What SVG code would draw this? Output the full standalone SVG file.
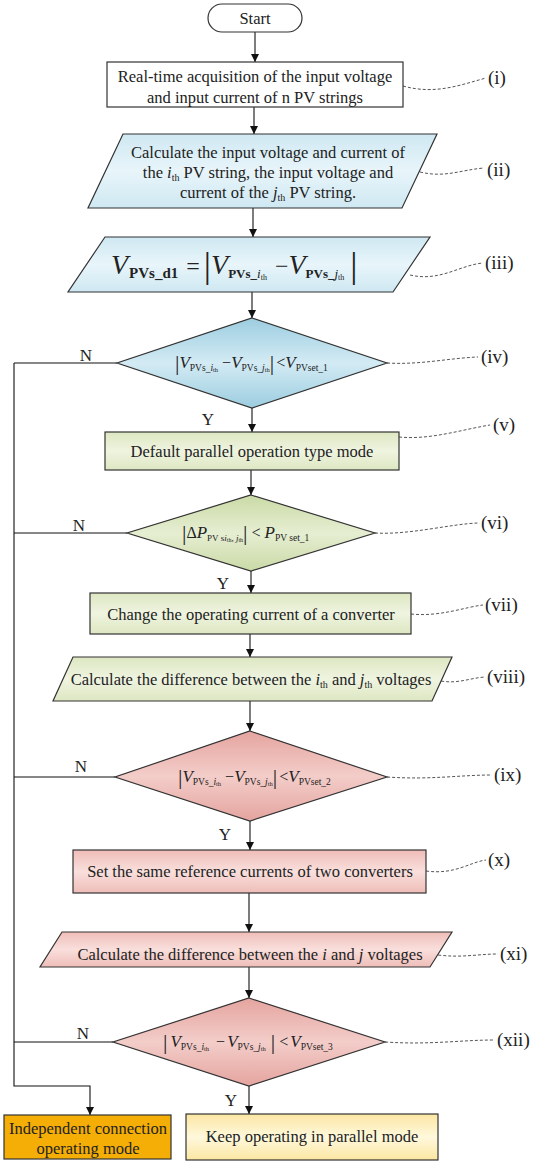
<svg xmlns="http://www.w3.org/2000/svg" width="540" height="1163" viewBox="0 0 540 1163">
<defs>
<linearGradient id="gBlue" x1="0" y1="0" x2="0" y2="1"><stop offset="0" stop-color="#cfe8f2"/><stop offset="0.5" stop-color="#e8f5fa"/><stop offset="1" stop-color="#cfe8f2"/></linearGradient>
<linearGradient id="gBlueD" x1="0" y1="0" x2="0" y2="1"><stop offset="0" stop-color="#9ccde0"/><stop offset="0.5" stop-color="#d3ebf4"/><stop offset="1" stop-color="#9ccde0"/></linearGradient>
<linearGradient id="gGreen" x1="0" y1="0" x2="0" y2="1"><stop offset="0" stop-color="#dde7c2"/><stop offset="0.5" stop-color="#eff4e0"/><stop offset="1" stop-color="#dde7c2"/></linearGradient>
<linearGradient id="gGreenD" x1="0" y1="0" x2="0" y2="1"><stop offset="0" stop-color="#cadaa6"/><stop offset="0.5" stop-color="#e6eed2"/><stop offset="1" stop-color="#cadaa6"/></linearGradient>
<linearGradient id="gPink" x1="0" y1="0" x2="0" y2="1"><stop offset="0" stop-color="#efbdb8"/><stop offset="0.5" stop-color="#f9dfdc"/><stop offset="1" stop-color="#efbdb8"/></linearGradient>
<linearGradient id="gPinkD" x1="0" y1="0" x2="0" y2="1"><stop offset="0" stop-color="#e5a49f"/><stop offset="0.5" stop-color="#f3cdc9"/><stop offset="1" stop-color="#e5a49f"/></linearGradient>
<linearGradient id="gYellow" x1="0" y1="0" x2="0" y2="1"><stop offset="0" stop-color="#fbe6a2"/><stop offset="0.5" stop-color="#fff8dc"/><stop offset="1" stop-color="#fbe6a2"/></linearGradient>
<marker id="arr" viewBox="0 0 10 10" refX="10" refY="5" markerWidth="8" markerHeight="8" orient="auto" markerUnits="userSpaceOnUse"><path d="M0,0 L10,5 L0,10 z" fill="#111"/></marker>
</defs>
<style>
.sh{stroke:#333;stroke-width:1.2}
.t{font-family:"Liberation Serif","Times New Roman",serif;font-size:16.5px;fill:#222;text-anchor:middle}
.lb{font-family:"Liberation Serif","Times New Roman",serif;font-size:19px;fill:#222}
.yn{font-family:"Liberation Serif","Times New Roman",serif;font-size:17px;fill:#222;text-anchor:middle}
.m{font-family:"Liberation Serif","Times New Roman",serif;fill:#222}
.it{font-style:italic}
.c{fill:none;stroke:#111;stroke-width:1.1}
.ca{fill:none;stroke:#111;stroke-width:1.1;marker-end:url(#arr)}
.d{fill:none;stroke:#555;stroke-width:1;stroke-dasharray:3 2}
</style>
<rect width="540" height="1163" fill="#ffffff"/>

<g id="connectors">
<line class="ca" x1="255" y1="32" x2="255" y2="62"/>
<line class="ca" x1="254" y1="107" x2="254" y2="134"/>
<line class="ca" x1="253" y1="208" x2="253" y2="237"/>
<line class="ca" x1="252" y1="292" x2="252" y2="318"/>
<line class="ca" x1="252" y1="408" x2="252" y2="432"/>
<line class="ca" x1="251" y1="470" x2="251" y2="495"/>
<line class="ca" x1="251" y1="571" x2="251" y2="593"/>
<line class="ca" x1="250" y1="634" x2="250" y2="657"/>
<line class="ca" x1="250" y1="701" x2="250" y2="731"/>
<line class="ca" x1="250" y1="821" x2="250" y2="850"/>
<line class="ca" x1="249" y1="893" x2="249" y2="932"/>
<line class="ca" x1="249" y1="967" x2="249" y2="998"/>
<line class="ca" x1="249" y1="1086" x2="249" y2="1114"/>
<line class="c" x1="117" y1="363" x2="14" y2="363"/>
<line class="c" x1="127" y1="533" x2="14" y2="533"/>
<line class="c" x1="115" y1="777" x2="14" y2="777"/>
<line class="c" x1="113" y1="1042" x2="14" y2="1042"/>
<path class="ca" d="M14,363 L14,1086 L90,1086 L90,1115"/>
<text class="yn" x="86" y="361">N</text>
<text class="yn" x="79" y="531">N</text>
<text class="yn" x="81" y="772">N</text>
<text class="yn" x="83" y="1039">N</text>
<text class="yn" x="208" y="425">Y</text>
<text class="yn" x="223" y="589">Y</text>
<text class="yn" x="225" y="840">Y</text>
<text class="yn" x="231" y="1106">Y</text>
<path class="d" d="M403,86 C435,95 460,85 486,78"/>
<path class="d" d="M420,172 C445,178 460,170 484,168"/>
<path class="d" d="M410,275 C440,282 460,265 483,263"/>
<path class="d" d="M387,363 C420,365 450,358 478,357"/>
<path class="d" d="M399,437 C430,440 460,430 490,425"/>
<path class="d" d="M375,533 C410,535 450,524 478,523"/>
<path class="d" d="M411,614 C440,617 465,607 483,605"/>
<path class="d" d="M441,681 C458,684 470,678 485,677"/>
<path class="d" d="M387,777 C430,780 460,775 492,775"/>
<path class="d" d="M426,871 C455,875 470,862 486,860"/>
<path class="d" d="M438,955 C462,958 478,954 498,954"/>
<path class="d" d="M385,1042 C430,1045 460,1040 495,1040"/>
</g>

<g id="start">
<rect class="sh" x="208" y="4" width="94" height="28" rx="14" fill="#fff"/>
<text class="t" x="255" y="23.5">Start</text>
</g>

<g id="n1">
<rect class="sh" x="107" y="62" width="296" height="45" fill="#fff"/>
<text class="t" x="255" y="81.5">Real-time acquisition of the input voltage</text>
<text class="t" x="255" y="102.5">and input current of n PV strings</text>
<text class="lb" x="488" y="84">(i)</text>
</g>

<g id="n2">
<polygon class="sh" points="123,134 437,134 402,208 88,208" fill="url(#gBlue)"/>
<text class="t" x="268" y="157.5">Calculate the input voltage and  current of</text>
<text class="t" x="268" y="177.5">the <tspan class="it">i</tspan><tspan font-size="10" dy="3">th</tspan><tspan dy="-3"> PV string, the input voltage and</tspan></text>
<text class="t" x="268" y="197.5">current of the <tspan class="it">j</tspan><tspan font-size="10" dy="3">th</tspan><tspan dy="-3"> PV string.</tspan></text>
<text class="lb" x="487" y="176">(ii)</text>
</g>

<g id="n3">
<polygon class="sh" points="105,237 430,237 393,292 68,292" fill="url(#gBlue)"/>
<text class="m" x="111" y="274"><tspan class="it" font-size="28">V</tspan><tspan font-size="15" font-weight="bold" dy="4" dx="1">PVs_d1</tspan><tspan font-size="24" dy="-4" dx="8">=</tspan><tspan font-size="36" dy="3" dx="4">|</tspan><tspan class="it" font-size="28" dy="-3">V</tspan><tspan font-size="13" font-weight="bold" dy="4">PVs_</tspan><tspan class="it" font-size="13">i</tspan><tspan font-size="8" dy="2">th</tspan><tspan font-size="24" dy="-6" dx="8">−</tspan><tspan class="it" font-size="28">V</tspan><tspan font-size="13" font-weight="bold" dy="4">PVs_</tspan><tspan class="it" font-size="13">j</tspan><tspan font-size="8" dy="2">th</tspan><tspan font-size="36" dy="-3" dx="6">|</tspan></text>
<text class="lb" x="485" y="269">(iii)</text>
</g>

<g id="n4">
<polygon class="sh" points="252,318 387,363 252,408 117,363" fill="url(#gBlueD)"/>
<text class="m" x="175" y="368"><tspan font-size="22" dy="2">|</tspan><tspan class="it" font-size="17" dy="-2">V</tspan><tspan font-size="9.5" dy="3">PVs_</tspan><tspan class="it" font-size="9.5">i</tspan><tspan font-size="6.5" dy="1">th</tspan><tspan font-size="16" dy="-4" dx="4">−</tspan><tspan class="it" font-size="17">V</tspan><tspan font-size="9.5" dy="3">PVs_</tspan><tspan class="it" font-size="9.5">j</tspan><tspan font-size="6.5" dy="1">th</tspan><tspan font-size="22" dy="-2">|</tspan><tspan font-size="16" dy="-2" dx="2">&lt;</tspan><tspan class="it" font-size="17">V</tspan><tspan font-size="9.5" dy="3">PVset_1</tspan></text>
<text class="lb" x="481" y="363">(iv)</text>
</g>

<g id="n5">
<rect class="sh" x="105" y="432" width="294" height="38" fill="url(#gGreen)"/>
<text class="t" x="252" y="457">Default parallel operation type mode</text>
<text class="lb" x="493" y="431">(v)</text>
</g>

<g id="n6">
<polygon class="sh" points="251,495 375,533 251,571 127,533" fill="url(#gGreenD)"/>
<text class="m" x="182" y="538"><tspan font-size="22" dy="2">|</tspan><tspan font-size="16" dy="-2">Δ</tspan><tspan class="it" font-size="17">P</tspan><tspan font-size="9" dy="3">PV s</tspan><tspan class="it" font-size="9">i</tspan><tspan font-size="6" dy="1">th</tspan><tspan font-size="9" dy="-1">, </tspan><tspan class="it" font-size="9">j</tspan><tspan font-size="6" dy="1">th</tspan><tspan font-size="22" dy="-2">|</tspan><tspan font-size="16" dy="-2" dx="4">&lt;</tspan><tspan class="it" font-size="17" dx="4">P</tspan><tspan font-size="9.5" dy="3">PV set_1</tspan></text>
<text class="lb" x="481" y="529">(vi)</text>
</g>

<g id="n7">
<rect class="sh" x="90" y="593" width="321" height="41" fill="url(#gGreen)"/>
<text class="t" x="251" y="619.5">Change the operating current of a converter</text>
<text class="lb" x="485" y="611">(vii)</text>
</g>

<g id="n8">
<polygon class="sh" points="73,657 452,657 432,701 53,701" fill="url(#gGreen)"/>
<text class="t" x="251" y="684.5">Calculate the difference between the <tspan class="it">i</tspan><tspan font-size="10" dy="3">th</tspan><tspan dy="-3"> and </tspan><tspan class="it">j</tspan><tspan font-size="10" dy="3">th</tspan><tspan dy="-3"> voltages</tspan></text>
<text class="lb" x="487" y="683">(viii)</text>
</g>

<g id="n9">
<polygon class="sh" points="250,731 387,777 250,821 115,777" fill="url(#gPinkD)"/>
<text class="m" x="178" y="782"><tspan font-size="22" dy="2">|</tspan><tspan class="it" font-size="17" dy="-2">V</tspan><tspan font-size="9.5" dy="3">PVs_</tspan><tspan class="it" font-size="9.5">i</tspan><tspan font-size="6.5" dy="1">th</tspan><tspan font-size="16" dy="-4" dx="4">−</tspan><tspan class="it" font-size="17">V</tspan><tspan font-size="9.5" dy="3">PVs_</tspan><tspan class="it" font-size="9.5">j</tspan><tspan font-size="6.5" dy="1">th</tspan><tspan font-size="22" dy="-2">|</tspan><tspan font-size="16" dy="-2" dx="2">&lt;</tspan><tspan class="it" font-size="17">V</tspan><tspan font-size="9.5" dy="3">PVset_2</tspan></text>
<text class="lb" x="494" y="781">(ix)</text>
</g>

<g id="n10">
<rect class="sh" x="73" y="850" width="353" height="43" fill="url(#gPink)"/>
<text class="t" x="250" y="877">Set the same reference currents of two converters</text>
<text class="lb" x="488" y="866">(x)</text>
</g>

<g id="n11">
<polygon class="sh" points="62,932 452,932 430,967 40,967" fill="url(#gPink)"/>
<text class="t" x="250" y="959.5">Calculate the difference between the <tspan class="it">i</tspan> and <tspan class="it">j</tspan> voltages</text>
<text class="lb" x="500" y="960">(xi)</text>
</g>

<g id="n12">
<polygon class="sh" points="249,998 385,1042 249,1086 113,1042" fill="url(#gPinkD)"/>
<text class="m" x="163" y="1047"><tspan font-size="22" dy="2">|</tspan><tspan class="it" font-size="17" dy="-2" dx="3">V</tspan><tspan font-size="9.5" dy="3">PVs_</tspan><tspan class="it" font-size="9.5">i</tspan><tspan font-size="6.5" dy="1">th</tspan><tspan font-size="16" dy="-4" dx="7">−</tspan><tspan class="it" font-size="17" dx="2">V</tspan><tspan font-size="9.5" dy="3">PVs_</tspan><tspan class="it" font-size="9.5">j</tspan><tspan font-size="6.5" dy="1">th</tspan><tspan font-size="22" dy="-2" dx="5">|</tspan><tspan font-size="16" dy="-2" dx="4">&lt;</tspan><tspan class="it" font-size="17" dx="2">V</tspan><tspan font-size="9.5" dy="3">PVset_3</tspan></text>
<text class="lb" x="497" y="1046">(xii)</text>
</g>

<g id="independent">
<rect class="sh" x="4" y="1115" width="167" height="44" fill="#f5ae05"/>
<text class="t" x="88" y="1134">Independent connection</text>
<text class="t" x="88" y="1154">operating mode</text>
</g>

<g id="keep">
<rect class="sh" x="186" y="1114" width="252" height="46" fill="url(#gYellow)"/>
<text class="t" x="312" y="1142">Keep operating in parallel mode</text>
</g>
</svg>
